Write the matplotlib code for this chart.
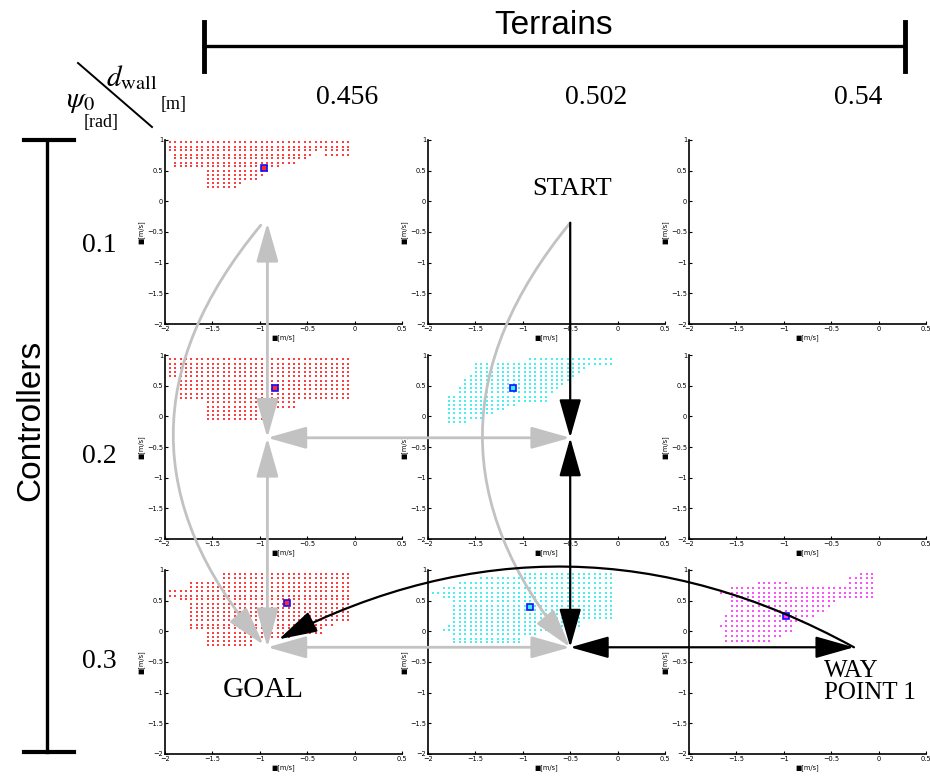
import numpy as np
import matplotlib
matplotlib.use("Agg")
import matplotlib.pyplot as plt
from matplotlib.patches import ConnectionPatch
from matplotlib.lines import Line2D

plt.rcParams["mathtext.fontset"] = "stix"

W, H = 930, 777
DX, DY = 0.057, 0.068          # lattice spacing of the sampled initial states

terrains = ["0.456", "0.502", "0.54"]      # d_wall [m]
controllers = ["0.1", "0.2", "0.3"]        # psi_0 [rad]

x_ticks = [-2, -1.5, -1, -0.5, 0, 0.5]
x_tick_labels = ["\u22122", "\u22121.5", "\u22121", "\u22120.5", "0", "0.5"]
y_ticks = [-2, -1.5, -1, -0.5, 0, 0.5, 1]
y_tick_labels = ["\u22122", "\u22121.5", "\u22121", "\u22120.5", "0", "0.5", "1"]

# Stable initial-state sets: each row is (y, [(x_start, x_end), ...])
region_r1c1 = [
    (0.96, [(-1.94, -0.06)]), (0.89, [(-1.94, -0.06)]),
    (0.83, [(-1.94, -0.40), (-0.27, -0.06)]), (0.76, [(-1.88, -0.46), (-0.27, -0.06)]),
    (0.70, [(-1.88, -0.53)]), (0.63, [(-1.88, -0.64)]), (0.57, [(-1.88, -0.80)]),
    (0.50, [(-1.56, -0.90)]), (0.43, [(-1.56, -0.98)]), (0.37, [(-1.56, -1.03)]),
    (0.30, [(-1.56, -1.20)]), (0.24, [(-1.56, -1.29)]),
]
region_r2c1 = [
    (0.93, [(-1.95, -0.06)]), (0.86, [(-1.95, -0.06)]), (0.79, [(-1.95, -0.06)]),
    (0.72, [(-1.95, -0.06)]), (0.65, [(-1.95, -0.06)]), (0.58, [(-1.82, -0.06)]),
    (0.51, [(-1.82, -0.06)]), (0.44, [(-1.82, -0.06)]), (0.37, [(-1.82, -0.06)]),
    (0.30, [(-1.82, -0.06)]), (0.23, [(-1.55, -0.64)]), (0.16, [(-1.55, -0.64)]),
    (0.09, [(-1.55, -0.99)]), (0.02, [(-1.55, -0.99)]), (-0.05, [(-1.55, -0.99)]),
]
region_r2c2 = [
    (0.93, [(-0.91, -0.06)]), (0.86, [(-1.50, -0.06)]), (0.79, [(-1.50, -0.36)]),
    (0.73, [(-1.50, -0.41)]), (0.66, [(-1.55, -0.47)]), (0.59, [(-1.60, -0.52)]),
    (0.52, [(-1.60, -0.57)]), (0.46, [(-1.65, -0.63)]), (0.39, [(-1.69, -0.68)]),
    (0.32, [(-1.76, -0.77)]), (0.25, [(-1.76, -0.77)]), (0.18, [(-1.76, -1.09)]),
    (0.12, [(-1.76, -1.23)]), (0.05, [(-1.76, -1.30)]), (-0.02, [(-1.76, -1.44)]),
    (-0.09, [(-1.76, -1.58)]),
]
region_r3c1 = [
    (0.94, [(-1.37, -0.06)]), (0.87, [(-1.37, -0.06)]), (0.78, [(-1.75, -0.06)]),
    (0.72, [(-1.75, -0.06)]), (0.65, [(-1.95, -0.06)]), (0.58, [(-1.95, -0.06)]),
    (0.52, [(-1.84, -0.06)]), (0.45, [(-1.75, -0.06)]), (0.38, [(-1.75, -0.06)]),
    (0.32, [(-1.75, -0.06)]), (0.25, [(-1.75, -0.06)]), (0.18, [(-1.75, -0.06)]),
    (0.11, [(-1.75, -0.26)]), (0.05, [(-1.75, -0.36)]), (-0.02, [(-1.56, -0.36)]),
    (-0.09, [(-1.56, -0.71)]), (-0.16, [(-1.56, -1.10)]), (-0.23, [(-1.56, -1.10)]),
]
region_r3c2 = [
    (0.94, [(-1.02, -0.07)]), (0.87, [(-1.45, -0.07)]), (0.78, [(-1.64, -0.07)]),
    (0.70, [(-1.82, -0.07)]), (0.63, [(-1.96, -0.07)]), (0.56, [(-1.82, -0.07)]),
    (0.49, [(-1.71, -0.07)]), (0.42, [(-1.71, -0.07)]), (0.35, [(-1.71, -0.07)]),
    (0.28, [(-1.71, -0.07)]), (0.22, [(-1.71, -0.07)]), (0.15, [(-1.71, -0.39)]),
    (0.09, [(-1.76, -0.39)]), (0.02, [(-1.83, -0.46)]), (-0.05, [(-1.71, -0.85)]),
    (-0.12, [(-1.71, -1.04)]), (-0.18, [(-1.71, -1.04)]), (-0.25, [(-1.71, -1.30)]),
]
region_r3c3 = [
    (0.94, [(-0.16, -0.07)]), (0.87, [(-0.30, -0.07)]),
    (0.78, [(-1.25, -0.96), (-0.30, -0.07)]), (0.70, [(-1.56, -0.07)]),
    (0.63, [(-1.68, -0.07)]), (0.56, [(-1.56, -0.07)]), (0.49, [(-1.56, -0.47)]),
    (0.41, [(-1.56, -0.54)]), (0.33, [(-1.56, -0.61)]), (0.25, [(-1.63, -0.68)]),
    (0.17, [(-1.63, -0.79)]), (0.09, [(-1.68, -0.93)]), (0.01, [(-1.63, -0.93)]),
    (-0.07, [(-1.63, -1.04)]), (-0.16, [(-1.63, -1.14)]),
]

# Chosen initial state in each non-empty panel
best_r1c1 = (-0.96, 0.55)
best_r2c1 = (-0.84, 0.47)
best_r2c2 = (-1.10, 0.46)
best_r3c1 = (-0.71, 0.46)
best_r3c2 = (-0.92, 0.39)
best_r3c3 = (-0.98, 0.25)

RED, CYAN, MAGENTA = "#ff2a2a", "#33f0f0", "#ff3cff"
panel_regions = [
    [(region_r1c1, best_r1c1, RED), None, None],
    [(region_r2c1, best_r2c1, RED), (region_r2c2, best_r2c2, CYAN), None],
    [(region_r3c1, best_r3c1, RED), (region_r3c2, best_r3c2, CYAN), (region_r3c3, best_r3c3, MAGENTA)],
]

x_lattice = -1.95 + DX * np.arange(45)


def expand(rows):
    xs, ys = [], []
    for y, spans in rows:
        for x0, x1 in spans:
            sel = x_lattice[(x_lattice >= x0 - DX / 2) & (x_lattice <= x1 + DX / 2)]
            xs.extend(sel)
            ys.extend([y] * len(sel))
    return np.array(xs), np.array(ys)


fig = plt.figure(figsize=(W / 100, H / 100), dpi=100)

col_left = [165, 428, 689]
row_top = [140, 355, 570]
AW, AH = 237, 184

axes = [[None] * 3 for _ in range(3)]
for r in range(3):
    for c in range(3):
        ax = fig.add_axes([col_left[c] / W, 1 - (row_top[r] + AH) / H, AW / W, AH / H])
        axes[r][c] = ax
        ax.set_xlim(-2, 0.5)
        ax.set_ylim(-2, 1)
        ax.set_xticks(x_ticks, x_tick_labels)
        ax.set_yticks(y_ticks, y_tick_labels)
        ax.tick_params(direction="in", length=2.5, width=0.8, labelsize=4.8, pad=1.5)
        for s in ("top", "right"):
            ax.spines[s].set_visible(False)
        for s in ("left", "bottom"):
            ax.spines[s].set_linewidth(1.2)
        ax.set_xlabel("\u25a0[m/s]", fontsize=4.8, labelpad=1.5)
        ax.set_ylabel("\u25a0[m/s]", fontsize=4.8, labelpad=1.5)
        spec = panel_regions[r][c]
        if spec is not None:
            rows, best, color = spec
            xs, ys = expand(rows)
            ax.scatter(xs, ys, s=3.6, marker="s", color=color, linewidths=0, alpha=0.9)
            ax.plot([best[0]], [best[1]], marker="s", ms=4.2, mfc=color, mec="#1010ff", mew=1.2)


def fpos(x, y):
    return x / W, 1 - y / H


serif = "Liberation Serif"
sans = "Liberation Sans"

# Terrain / controller headers
fig.text(*fpos(554, 25), "Terrains", fontsize=24, family=sans, ha="center", va="center")
fig.text(*fpos(31, 420), "Controllers", fontsize=24, family=sans, ha="center", va="center", rotation=90)
for i, lab in enumerate(terrains):
    fig.text(*fpos([347, 596, 858][i], 97), lab, fontsize=20, family=serif, ha="center", va="center")
for i, lab in enumerate(controllers):
    fig.text(*fpos(99, [246, 456, 661][i]), lab, fontsize=20, family=serif, ha="center", va="center")

fig.add_artist(Line2D([204 / W, 905 / W], [1 - 46 / H] * 2, color="black", lw=2.4))
for xx in (204, 905):
    fig.add_artist(Line2D([xx / W] * 2, [1 - 22 / H, 1 - 71 / H], color="black", lw=3.5))
fig.add_artist(Line2D([47 / W] * 2, [1 - 140 / H, 1 - 752 / H], color="black", lw=2.4))
for yy in (140, 752):
    fig.add_artist(Line2D([24 / W, 74 / W], [1 - yy / H] * 2, color="black", lw=3.0))

# Corner key
fig.add_artist(Line2D([78 / W, 152 / W], [1 - 63 / H, 1 - 127 / H], color="black", lw=1.4))
fig.text(*fpos(106, 86), r"$d_{\rm wall}$", fontsize=21, ha="left", va="baseline")
fig.text(*fpos(174, 104), "[m]", fontsize=13, family=serif, ha="center", va="center")
fig.text(*fpos(66, 107), r"$\psi_0$", fontsize=21, ha="left", va="baseline")
fig.text(*fpos(101, 122), "[rad]", fontsize=13, family=serif, ha="center", va="center")

# Labels of the path
fig.text(*fpos(572, 189), "START", fontsize=19, family=serif, ha="center", va="center")
fig.text(*fpos(263, 690), "GOAL", fontsize=21, family=serif, ha="center", va="center")
fig.text(*fpos(824, 682), "WAY\nPOINT 1", fontsize=18, family=serif, ha="left", va="center",
         linespacing=0.95)

# Switching graph between controller/terrain cells
node_c1 = (-0.92, -0.35)
node_c2 = (-0.50, -0.35)
node_c1_row3 = (-0.92, -0.26)
node_c2_row3 = (-0.50, -0.26)
node_c3_row3 = (-0.26, -0.26)
curve_start_c1 = (-0.99, -0.39)
curve_end_c1 = (-0.96, -0.22)
goal_entry = (-0.80, -0.13)

GRAY, BLACK = "#c2c2c2", "black"
HEAD = "head_length=1.2,head_width=0.34"


def link(axA, pA, axB, pB, color, lw, style, rad=0.0, z=5):
    con = ConnectionPatch(xyA=pA, coordsA=axA.transData, xyB=pB, coordsB=axB.transData,
                          arrowstyle=f"{style},{HEAD}", connectionstyle=f"arc3,rad={rad}",
                          color=color, lw=lw, mutation_scale=20, zorder=z)
    fig.add_artist(con)


a = axes
link(a[0][0], node_c1, a[1][0], node_c1, GRAY, 2.0, "<|-|>")
link(a[1][0], node_c1, a[2][0], node_c1_row3, GRAY, 2.0, "<|-|>")
link(a[1][0], node_c1, a[1][1], node_c2, GRAY, 2.0, "<|-|>")
link(a[2][0], node_c1_row3, a[2][1], node_c2_row3, GRAY, 2.0, "<|-|>")
link(a[0][0], curve_start_c1, a[2][0], curve_end_c1, GRAY, 2.0, "-|>", rad=0.42)
link(a[0][1], node_c2, a[2][1], node_c2_row3, GRAY, 2.0, "-|>", rad=0.41)

link(a[0][1], node_c2, a[1][1], node_c2, BLACK, 1.6, "-|>", z=6)
link(a[1][1], node_c2, a[2][1], node_c2_row3, BLACK, 1.6, "<|-|>", z=6)
link(a[2][1], node_c2_row3, a[2][2], node_c3_row3, BLACK, 1.6, "<|-|>", z=6)
link(a[2][2], node_c3_row3, a[2][0], goal_entry, BLACK, 1.6, "-|>", rad=0.265, z=6)

fig.savefig("out.png", dpi=100)
